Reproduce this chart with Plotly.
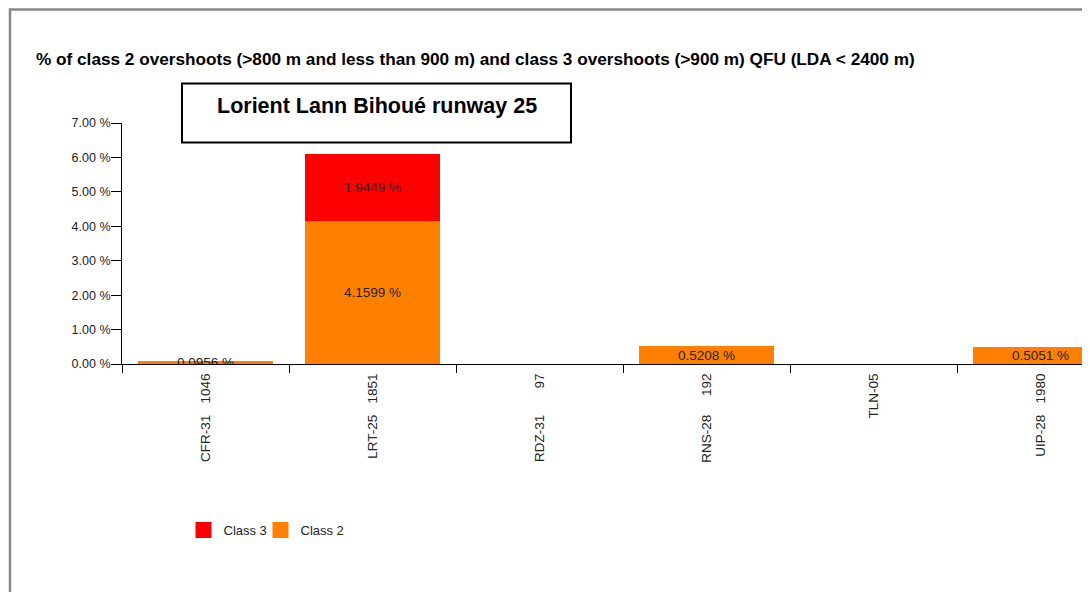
import plotly.graph_objects as go

# runway / number of flights
runways = ['CFR-31', 'LRT-25', 'RDZ-31', 'RNS-28', 'TLN-05', 'UIP-28']
flights = ['1046', '1851', '97', '192', '', '1980']
class2 = [0.0956, 4.1599, 0, 0.5208, 0, 0.5051]
class3 = [0, 1.9449, 0, 0, 0, 0]

# the page body has an 8px margin, so figure coords = screen coords - 8
OFF = 8
W, H = 1090 - OFF, 592 - OFF
L, T, B = 122 - OFF, 123 - OFF, 228
PW, PH = W - L, H - T - B


def px(x):
    return (x - OFF - L) / PW


def py(y):
    return (H - B - (y - OFF)) / PH


NB = '\u00a0'
tick_text = []
for name, n in zip(runways, flights):
    pad = 3 + 2 * (4 - len(n)) if n else 0
    tick_text.append(name + NB * pad + n)


def labels(vals):
    return [f'{v:.4f} %' if v else '' for v in vals]


fig = go.Figure()
fig.add_trace(go.Bar(
    x=runways, y=class2, name='Class 2', marker=dict(color='#FF8000', line=dict(width=0)),
    text=labels(class2), textposition='inside', insidetextanchor='middle', textangle=0,
    textfont=dict(size=13.5, color='#222'), width=0.81, showlegend=False, hoverinfo='skip',
))
fig.add_trace(go.Bar(
    x=runways, y=class3, name='Class 3', marker=dict(color='#FF0000', line=dict(width=0)),
    text=labels(class3), textposition='inside', insidetextanchor='middle', textangle=0,
    textfont=dict(size=13.5, color='#222'), width=0.81, showlegend=False, hoverinfo='skip',
))
# legend entries with bigger squares, one legend each so they sit close together
for nm, col, lg in [('Class 3', '#FF0000', 'legend'), ('Class 2', '#FF8000', 'legend2')]:
    fig.add_trace(go.Scatter(
        x=[None], y=[None], mode='markers', name=nm, legend=lg,
        marker=dict(symbol='square', size=16, color=col, line=dict(width=0)),
    ))

leg = dict(orientation='h', xanchor='left', yanchor='middle', y=py(530),
           font=dict(size=13, color='#222'), itemclick=False, bgcolor='rgba(0,0,0,0)')

fig.update_layout(
    width=W, height=H,
    barmode='stack',
    plot_bgcolor='white', paper_bgcolor='white',
    margin=dict(l=L, r=0, t=T, b=B),
    font=dict(family='Liberation Sans, Arial, sans-serif', color='#222'),
    uniformtext=dict(minsize=13.5, mode='show'),
    title=dict(
        text='<b>% of class 2 overshoots (>800 m and less than 900 m) and class 3 overshoots (>900 m) QFU (LDA < 2400 m)</b>',
        x=(36 - OFF) / W, xanchor='left', xref='container',
        y=1 - (59 - OFF) / H, yanchor='middle', yref='container',
        font=dict(size=17.2, color='black'),
    ),
    legend=dict(leg, x=px(183.5)),
    legend2=dict(leg, x=px(260.5)),
    shapes=[
        # page frame
        dict(type='rect', xref='paper', yref='paper', x0=px(10), x1=px(1120),
             y0=py(640), y1=py(9.5), line=dict(color='#888', width=2.5)),
        # airport box
        dict(type='rect', xref='paper', yref='paper', x0=px(182), x1=px(571),
             y0=py(142.5), y1=py(83.5), line=dict(color='black', width=2),
             fillcolor='white'),
    ],
    annotations=[
        dict(text='<b>Lorient Lann Bihoué runway 25</b>', xref='paper', yref='paper',
             x=px(377), y=py(106), showarrow=False, xanchor='center', yanchor='middle',
             font=dict(size=21.5, color='black')),
    ],
)

fig.update_xaxes(
    type='category', categoryorder='array', categoryarray=runways,
    range=[-0.5, -0.5 + PW / 167.0],
    tickmode='array', tickvals=runways, ticktext=tick_text,
    tickangle=-90, tickfont=dict(size=13.5, color='#222'), ticklabelstandoff=3,
    showline=True, linecolor='black', linewidth=1,
    ticks='outside', tickson='boundaries', ticklen=8, tickcolor='black',
    showgrid=False, zeroline=False,
)
fig.update_yaxes(
    range=[0, 7], dtick=1, tickformat='.2f', ticksuffix=' %',
    tickfont=dict(size=12.5, color='#222'),
    showline=True, linecolor='black', linewidth=1,
    ticks='outside', ticklen=10, tickcolor='black', ticklabelstandoff=-2,
    showgrid=False, zeroline=False,
)

fig.write_html('out.html')
